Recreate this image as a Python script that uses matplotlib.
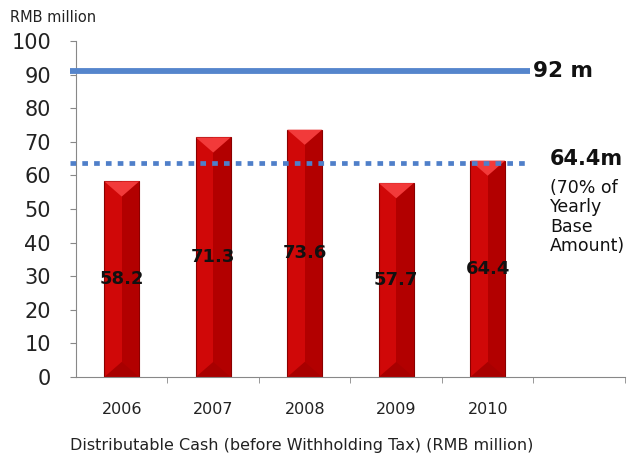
import matplotlib
matplotlib.use("Agg")
import matplotlib.pyplot as plt
from matplotlib.patches import Polygon
import numpy as np

years = ["2006", "2007", "2008", "2009", "2010", ""]
values = [58.2, 71.3, 73.6, 57.7, 64.4]
cap_value = 91.0
cap_label = "92 m"
base_value = 63.8
base_label = "64.4m"
base_note = "(70% of\nYearly\nBase\nAmount)"
yticks = list(range(0, 101, 10))

plt.rcParams["font.family"] = ["DejaVu Sans"]

fig = plt.figure(figsize=(6.3, 4.59), dpi=100)
ax = fig.add_axes([0.1206, 0.1786, 0.8714, 0.7321])

bw = 0.38
x = np.arange(len(values))
ax.bar(x, values, width=bw, color="#d00808", edgecolor="#8a0000", linewidth=0.8, zorder=2)
# darker right facet
ax.bar(x + bw / 4, values, width=bw / 2, color="#b20000", linewidth=0, zorder=2.1)
# top pyramid highlight and bottom shading
for xi, v in zip(x, values):
    ax.add_patch(Polygon([[xi - bw / 2, v], [xi + bw / 2, v], [xi, v - 4.5]],
                         closed=True, facecolor="#f23a3a", edgecolor="none", zorder=2.2))
    ax.add_patch(Polygon([[xi - bw / 2, 0], [xi + bw / 2, 0], [xi, 4.5]],
                         closed=True, facecolor="#a80000", edgecolor="none", zorder=2.2))

for xi, v in zip(x, values):
    ax.text(xi, v / 2, f"{v}", ha="center", va="center", fontsize=13,
            fontweight="bold", color="#111111", zorder=4)

ax.plot([-0.57, 4.46], [cap_value, cap_value], color="#5585cc", linewidth=4.2,
        solid_capstyle="butt", clip_on=False, zorder=3)
ax.plot([-0.56, 4.46], [base_value, base_value], color="#4f7fc9", linewidth=3.4,
        linestyle=(0, (1.2, 1.3)), dash_capstyle="butt", clip_on=False, zorder=3)

ax.text(4.49, cap_value, cap_label, ha="left", va="center", fontsize=15.5,
        fontweight="bold", color="#111111", clip_on=False)
ax.text(4.68, base_value + 1.0, base_label, ha="left", va="center", fontsize=15,
        fontweight="bold", color="#111111", clip_on=False)
ax.text(4.68, 59.0, base_note, ha="left", va="top", fontsize=12.5,
        color="#111111", linespacing=1.1, clip_on=False)

ax.set_xlim(-0.5, 5.5)
ax.set_ylim(0, 100)
ax.set_yticks(yticks)
ax.set_yticklabels([str(t) for t in yticks], fontsize=15, color="#222222")
ax.set_xticks(np.arange(len(years)))
ax.set_xticklabels(years, fontsize=11.5, color="#222222")
ax.tick_params(axis="x", which="major", length=0, pad=18)
ax.set_xticks(np.arange(len(years)) + 0.5, minor=True)
ax.tick_params(axis="x", which="minor", length=4, color="#888888", direction="out")
ax.tick_params(axis="y", length=4, color="#888888", direction="out", pad=14)

for s in ["top", "right"]:
    ax.spines[s].set_visible(False)
ax.spines["left"].set_color("#888888")
ax.spines["bottom"].set_color("#888888")

ax.set_xlabel("Distributable Cash (before Withholding Tax) (RMB million)", fontsize=11.5,
              color="#222222")
ax.xaxis.set_label_coords(0.412, -0.18)
fig.text(10 / 630, 1 - 17 / 459, "RMB million", ha="left", va="center", fontsize=10.5,
         color="#222222")

fig.savefig("out.png", dpi=100)
